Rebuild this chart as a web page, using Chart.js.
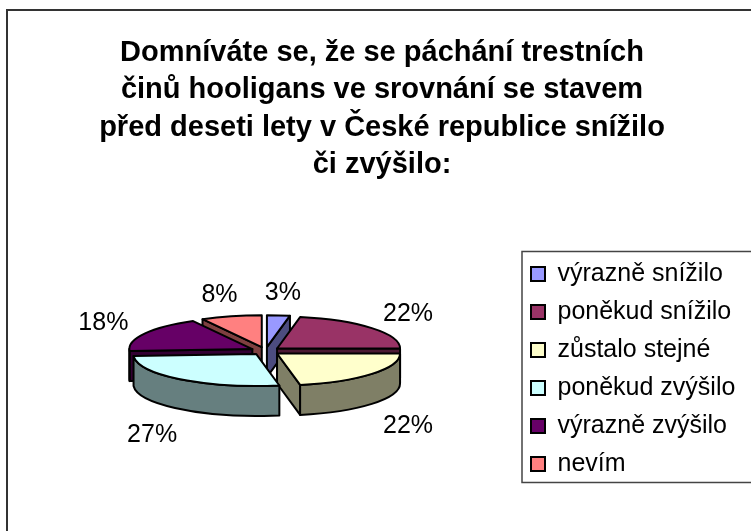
<!DOCTYPE html>
<html lang="cs">
<head>
<meta charset="utf-8">
<title>Páchání trestních činů hooligans</title>
<script src="https://cdn.jsdelivr.net/npm/chart.js@4.4.1/dist/chart.umd.min.js"></script>
<style>
  html, body { margin: 0; padding: 0; background: #fff; overflow: hidden; }
  #wrap { width: 751px; height: 531px; position: relative; }
</style>
</head>
<body>
<div id="wrap"><canvas id="pie"></canvas></div>
<script>
const titleLines = [
  'Domníváte se, že se páchání trestních',
  'činů hooligans ve srovnání se stavem',
  'před deseti lety v České republice snížilo',
  'či zvýšilo:'
];
const answers = ['výrazně snížilo', 'poněkud snížilo', 'zůstalo stejné', 'poněkud zvýšilo', 'výrazně zvýšilo', 'nevím'];
const shares = [3, 22, 22, 27, 18, 8];
const sliceColors = ['#9999FF', '#993366', '#FFFFCC', '#CCFFFF', '#660066', '#FF8080'];

const FONT = "'Liberation Sans', Arial, sans-serif";
// fake 3D look: vertical squash, wall height, explode distance, lift of the top face
const TILT = 0.26, DEPTH = 30, EXPLODE = 15, LIFT = 18;

function darken(hex) {
  const n = parseInt(hex.slice(1), 16);
  return `rgb(${(n >> 16) >> 1},${((n >> 8) & 255) >> 1},${(n & 255) >> 1})`;
}

// legend sits wider than its text, box runs off the right edge
const legendWidth = {
  id: 'legendWidth',
  afterInit(chart) {
    const lg = chart.legend;
    const fit = lg.fit.bind(lg);
    lg.fit = () => { fit(); lg.width = 233; };
  }
};

const pie3d = {
  id: 'pie3d',
  beforeDatasetsDraw(chart) {
    const ctx = chart.ctx;
    const arcs = chart.getDatasetMeta(0).data;
    const ax = arcs[0].x, ay = arcs[0].y;
    const cy = ay - LIFT;
    const total = shares.reduce((a, b) => a + b, 0);

    const slices = arcs.map((el, i) => {
      const a0 = el.startAngle, a1 = el.endAngle, m = (a0 + a1) / 2;
      return {
        el, i, a0, a1, m, r: el.outerRadius,
        sx: ax + Math.cos(m) * EXPLODE,
        sy: cy + Math.sin(m) * EXPLODE * TILT
      };
    }).sort((p, q) => p.sy - q.sy);

    const rim = (s, t) => [s.sx + s.r * Math.cos(t), s.sy + s.r * TILT * Math.sin(t)];

    ctx.save();
    ctx.lineWidth = 2;
    ctx.strokeStyle = '#000';
    ctx.lineJoin = 'round';

    // side walls, back to front
    slices.forEach(s => {
      ctx.fillStyle = darken(sliceColors[s.i]);
      const face = t => {
        const [px, py] = rim(s, t);
        ctx.beginPath();
        ctx.moveTo(s.sx, s.sy);
        ctx.lineTo(px, py);
        ctx.lineTo(px, py + DEPTH);
        ctx.lineTo(s.sx, s.sy + DEPTH);
        ctx.closePath();
        ctx.fill();
        ctx.stroke();
      };
      if (Math.cos(s.a0) < -1e-6) face(s.a0);
      if (Math.cos(s.a1) > 1e-6) face(s.a1);
      const lo = Math.max(s.a0, 0), hi = Math.min(s.a1, Math.PI);
      if (hi > lo) {
        ctx.beginPath();
        ctx.ellipse(s.sx, s.sy, s.r, s.r * TILT, 0, lo, hi);
        ctx.ellipse(s.sx, s.sy + DEPTH, s.r, s.r * TILT, 0, hi, lo, true);
        ctx.closePath();
        ctx.fill();
        ctx.stroke();
      }
    });

    // top faces drawn by the arc elements, squashed
    slices.forEach(s => {
      ctx.save();
      ctx.translate(0, cy);
      ctx.scale(1, TILT);
      ctx.translate(0, -ay);
      ctx.translate(Math.cos(s.m) * EXPLODE, Math.sin(s.m) * EXPLODE);
      s.el.draw(ctx);
      ctx.beginPath();
      ctx.moveTo(ax, ay);
      ctx.arc(ax, ay, s.r, s.a0, s.a1);
      ctx.closePath();
      ctx.restore();
      ctx.stroke();
    });

    // percentage labels
    ctx.font = `25px ${FONT}`;
    ctx.fillStyle = '#000';
    ctx.textAlign = 'center';
    ctx.textBaseline = 'middle';
    slices.forEach(s => {
      const c = Math.cos(s.m), sn = Math.sin(s.m);
      const x = ax + (s.r + 62) * c;
      const y = cy + (s.r * TILT + 26) * sn + (sn > 0 ? DEPTH + 8 : 0);
      ctx.fillText(Math.round(shares[s.i] / total * 100) + '%', x, y);
    });
    ctx.restore();
    return false;
  },
  afterDraw(chart) {
    const ctx = chart.ctx;
    ctx.save();
    // chart frame (only left and top edges are in view)
    ctx.strokeStyle = '#333';
    ctx.lineWidth = 2;
    ctx.beginPath();
    ctx.moveTo(7, chart.height);
    ctx.lineTo(7, 10);
    ctx.lineTo(chart.width, 10);
    ctx.stroke();
    // legend box
    const lg = chart.legend;
    const hb = lg.legendHitBoxes;
    const last = hb[hb.length - 1];
    const top = hb[0].top - 10;
    const bottom = last.top + last.height + 6;
    ctx.lineWidth = 1.5;
    ctx.strokeStyle = '#444';
    ctx.strokeRect(lg.left + 4, top, chart.width, bottom - top);
    ctx.restore();
  }
};

new Chart(document.getElementById('pie'), {
  type: 'pie',
  data: {
    labels: answers,
    datasets: [{
      data: shares,
      backgroundColor: sliceColors,
      borderWidth: 0,
      radius: 123
    }]
  },
  options: {
    responsive: true,
    maintainAspectRatio: false,
    animation: false,
    events: [],
    layout: { padding: { left: 13, right: 0, top: 0, bottom: 0 } },
    plugins: {
      title: {
        display: true,
        text: titleLines,
        color: '#000',
        font: { family: FONT, size: 29, weight: 'bold', lineHeight: 1.293 },
        padding: { top: 34, bottom: 23 }
      },
      legend: {
        position: 'right',
        fullSize: false,
        align: 'center',
        labels: {
          boxWidth: 14,
          boxHeight: 14,
          padding: 13,
          color: '#000',
          font: { family: FONT, size: 25 },
          generateLabels: (chart) =>
            Chart.overrides.pie.plugins.legend.labels.generateLabels(chart)
              .map(l => ({ ...l, strokeStyle: '#000', lineWidth: 2 }))
        }
      },
      tooltip: { enabled: false }
    }
  },
  plugins: [legendWidth, pie3d]
});
</script>
</body>
</html>
